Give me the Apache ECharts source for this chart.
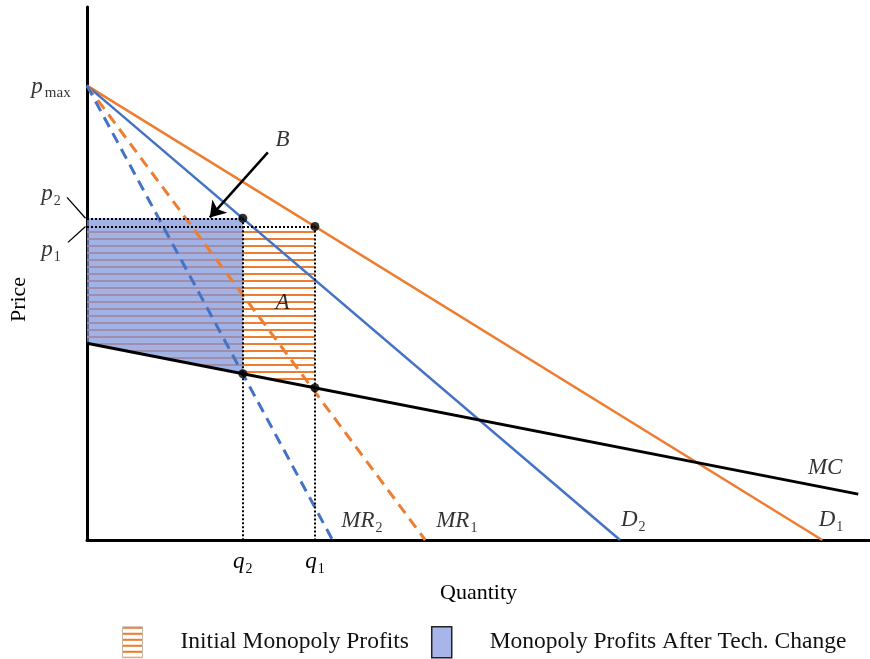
<!DOCTYPE html>
<html><head><meta charset="utf-8">
<script src="https://cdn.jsdelivr.net/npm/echarts@6/dist/echarts.min.js"></script>
<style>html,body{margin:0;padding:0;background:#fff}#c{width:870px;height:659px}</style>
</head><body><div id="c"></div>
<script>
// ---- data (quantity units, price units) ----
const pMax = 100;
const demand1 = [[0, 100], [100, 0]];
const demand2 = [[0, 100], [72.5, 0]];
const margRev1 = [[0, 100], [46.0, 0]];
const margRev2 = [[0, 100], [33.4, 0]];
const margCost = [[0, 43.3], [104.9, 10.1]];
const q1 = 31.0, q2 = 21.2;
const p1 = 69.0, p2 = 70.8;
const mcAtQ1 = 33.5, mcAtQ2 = 36.6, mcAtZero = 43.3;

const initialRegion = [[0, p1], [q1, p1], [q1, mcAtQ1], [0, mcAtZero]];
const afterRegion = [[0, p2], [q2, p2], [q2, mcAtQ2], [0, mcAtZero]];
const optimumPoints = [[q2, p2], [q1, p1], [q2, mcAtQ2], [q1, mcAtQ1]];
const guideSegments = [
  [[0, p2], [q2, p2]], [[0, p1], [q1, p1]],
  [[q2, p2], [q2, 0]], [[q1, p1], [q1, 0]]
];
const xTickValues = [q2, q1];
const xTickTexts = ['{i|q}{s|2}', '{i|q}{s|1}'];
const legendNames = ['Initial Monopoly Profits', 'Monopoly Profits After Tech. Change'];

// annotation texts and layout positions
const annoTexts = ['{i|p}{m|max}', '{i|p}{s|2}', '{i|p}{s|1}', '{i|B}', '{i|A}',
  '{i|MR}{s|2}', '{i|MR}{s|1}', '{i|D}{s|2}', '{i|D}{s|1}', '{i|MC}'];
const annoPos = [[-4.9, 99.6], [-4.9, 76.0], [-4.9, 63.8], [26.6, 87.9], [26.6, 52.1],
  [37.4, 4.0], [50.3, 4.0], [74.3, 4.4], [101.2, 4.4], [100.4, 15.8]];
const leaderPos = [[[-2.72, 75.4], [-0.2, p2]], [[-2.59, 65.5], [-0.2, p1]]];
const arrowPos = [[24.6, 85.3], [16.7, 71.0]];

const ORANGE = '#ED7D31', BLUE = '#4472C4';
const FONT = 'Liberation Serif';

function makeHatch(step, lw) {
  const c = document.createElement('canvas');
  c.width = 8; c.height = step;
  const g = c.getContext('2d');
  g.fillStyle = ORANGE;
  g.fillRect(0, 0, 8, lw);
  return { image: c, repeat: 'repeat' };
}
const hatch = makeHatch(7, 2);
const legendHatch = makeHatch(6, 2);
const blueFill = 'rgba(127,148,219,0.72)';

const rich = {
  i: { fontFamily: FONT, fontStyle: 'italic', fontSize: 23, lineHeight: 24, color: '#000', verticalAlign: 'top' },
  s: { fontFamily: FONT, fontSize: 14, lineHeight: 14, color: '#000', padding: [12, 0, 0, 1], verticalAlign: 'top' },
  m: { fontFamily: FONT, fontSize: 15, lineHeight: 15, color: '#000', padding: [10, 0, 0, 2], verticalAlign: 'top' }
};

function lineSeries(data, color, dashed, width) {
  return {
    type: 'line', data: data, symbol: 'none', z: 3, silent: true,
    lineStyle: { color: color, width: width, type: dashed ? [11, 7] : 'solid' }
  };
}
function regionSeries(name, pts, fill, z) {
  return {
    type: 'custom', name: name, z: z, silent: true,
    itemStyle: { color: fill },
    data: [[0, 0]],
    renderItem: function (params, api) {
      return { type: 'polygon', shape: { points: pts.map(p => api.coord(p)) }, style: { fill: fill } };
    }
  };
}

const chart = echarts.init(document.getElementById('c'), null, { renderer: 'canvas' });
chart.setOption({
  animation: false,
  backgroundColor: '#fff',
  grid: { left: 84, right: 0, top: 7, bottom: 119, containLabel: false },
  legend: {
    left: 122, top: 626, padding: 0, itemWidth: 20, itemHeight: 31, itemGap: 22,
    icon: 'rect',
    textStyle: { fontFamily: FONT, fontSize: 23.5, color: '#111', padding: [0, 0, 0, 33] },
    data: [
      { name: legendNames[0], itemStyle: { color: legendHatch, borderColor: '#c9b8a8', borderWidth: 1 } },
      { name: legendNames[1], itemStyle: { color: '#a7b5ea', borderColor: '#222', borderWidth: 1.5 } }
    ]
  },
  xAxis: {
    type: 'value', min: 0, max: 106.5,
    name: 'Quantity', nameLocation: 'middle', nameGap: 42,
    nameTextStyle: { fontFamily: FONT, fontSize: 22, color: '#000' },
    axisLine: { show: true, lineStyle: { color: '#000', width: 3 } },
    axisTick: { show: false }, splitLine: { show: false },
    axisLabel: {
      show: true, customValues: xTickValues, margin: 10,
      formatter: function (v) { return xTickTexts[xTickValues.indexOf(v)] || ''; },
      rich: rich
    }
  },
  yAxis: {
    type: 'value', min: 0, max: 117.3,
    name: 'Price', nameLocation: 'middle', nameGap: 57,
    nameTextStyle: { fontFamily: FONT, fontSize: 22, color: '#000', padding: [0, 52, 0, 0] },
    axisLine: { show: true, lineStyle: { color: '#000', width: 3 } },
    axisTick: { show: false }, splitLine: { show: false }, axisLabel: { show: false }
  },
  series: [
    regionSeries(legendNames[0], initialRegion, hatch, 1),
    regionSeries(legendNames[1], afterRegion, blueFill, 2),
    lineSeries(demand1, ORANGE, false, 2.5),
    lineSeries(demand2, BLUE, false, 2.5),
    lineSeries(margRev1, ORANGE, true, 3),
    lineSeries(margRev2, BLUE, true, 3),
    lineSeries(margCost, '#000', false, 3),
    {
      type: 'lines', coordinateSystem: 'cartesian2d', z: 4, silent: true, clip: false,
      lineStyle: { color: '#000', width: 2, type: [2, 2], opacity: 1 },
      data: guideSegments.map(s => ({ coords: s }))
    },
    {
      type: 'scatter', z: 6, silent: true, symbolSize: 9,
      itemStyle: { color: '#000' }, data: optimumPoints
    },
    {
      type: 'lines', coordinateSystem: 'cartesian2d', z: 6, silent: true, clip: false,
      symbol: ['none', 'arrow'], symbolSize: [1, 15],
      lineStyle: { color: '#000', width: 2.5, opacity: 1 },
      data: [{ coords: arrowPos }]
    },
    {
      type: 'lines', coordinateSystem: 'cartesian2d', z: 6, silent: true, clip: false,
      lineStyle: { color: '#000', width: 1.3, opacity: 1 },
      data: leaderPos.map(s => ({ coords: s }))
    },
    {
      type: 'scatter', z: 7, silent: true, clip: false, symbolSize: 1,
      itemStyle: { color: 'rgba(0,0,0,0)' },
      label: { show: true, position: 'inside', rich: rich },
      data: annoPos.map((p, k) => ({ value: p, label: { formatter: annoTexts[k] } }))
    }
  ]
});
</script></body></html>
